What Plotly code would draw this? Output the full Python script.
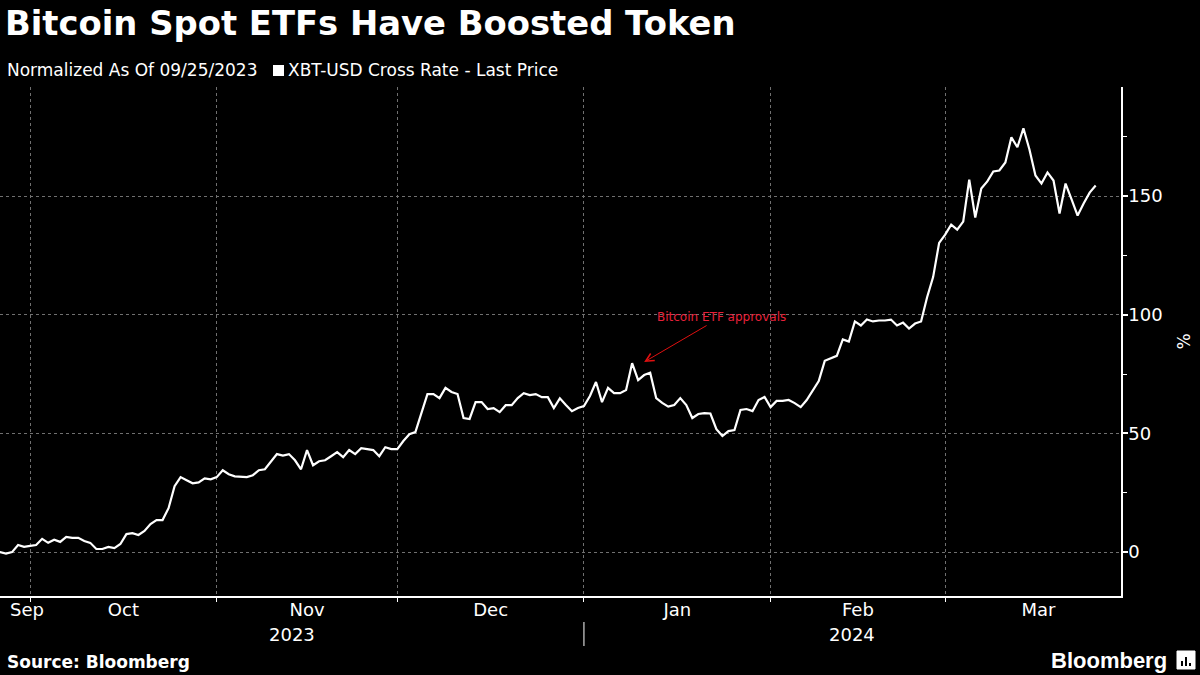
import plotly.graph_objects as go
import pandas as pd

# ---------------- data ----------------
start_date = "2023-09-25"   # normalization date (value 0), daily values follow
xbt_pct = [
    0.0,
    0.0, -0.6, 0.0, 3.0, 2.2, 2.6, 3.0, 5.6, 3.9, 5.2,
    4.3, 6.4, 6.0, 6.0, 4.7, 3.9, 1.3, 1.3, 2.2, 1.7,
    3.4, 7.6, 8.0, 7.2, 8.9, 11.8, 13.5, 13.5, 18.5, 27.8,
    31.6, 30.3, 29.0, 29.4, 31.1, 30.7, 31.6, 34.5, 32.8, 31.9,
    31.9, 31.6, 32.4, 34.5, 34.9, 37.9, 41.3, 40.7, 41.3, 38.7,
    34.9, 43.0, 36.6, 38.3, 38.7, 40.4, 42.1, 40.0, 43.0, 41.3,
    43.8, 43.4, 43.0, 40.4, 44.2, 43.4, 43.4, 46.8, 49.7, 50.6,
    59.0, 66.6, 66.6, 64.9, 69.2, 67.5, 66.6, 56.5, 56.1, 63.2,
    63.2, 60.3, 60.7, 59.0, 61.9, 61.9, 64.9, 67.0, 66.2, 66.6,
    65.3, 65.3, 60.7, 64.8, 62.0, 59.4, 60.7, 61.5, 65.8, 71.7,
    63.2, 69.2, 67.0, 67.0, 68.3, 79.6, 72.5, 74.6, 75.6, 64.9,
    62.9, 61.3, 62.0, 64.9, 62.0, 56.5, 58.2, 58.6, 58.4, 51.8,
    48.9, 51.0, 51.4, 59.9, 60.3, 59.4, 64.1, 65.4, 61.1, 63.7,
    63.7, 64.1, 62.8, 61.1, 64.1, 67.9, 72.1, 80.6, 81.8, 82.7,
    89.6, 88.7, 97.2, 95.5, 98.0, 97.2, 97.6, 97.6, 98.0, 95.5,
    96.7, 94.2, 96.3, 97.2, 107.4, 115.9, 130.3, 133.8, 138.0, 135.9,
    139.3, 157.0, 141.0, 153.2, 156.2, 160.4, 160.8, 164.2, 174.8, 170.6,
    178.6, 169.7, 158.7, 155.3, 160.0, 156.6, 142.7, 155.3, 148.6, 141.8,
    146.9, 151.5, 154.5,
]
month_labels = ["Sep", "Oct", "Nov", "Dec", "Jan", "Feb", "Mar"]
month_starts = ["2023-09-01", "2023-10-01", "2023-11-01", "2023-12-01",
                "2024-01-01", "2024-02-01", "2024-03-01"]
year_labels = ["2023", "2024"]
y_ticks = [0, 50, 100, 150]

title_text = "Bitcoin Spot ETFs Have Boosted Token"
subtitle_text = "Normalized As Of 09/25/2023"
series_name = "XBT-USD Cross Rate - Last Price"
event_text = "Bitcoin ETF approvals"
event_date = "2024-01-11"
event_value = 80.1
source_text = "Source: Bloomberg"

# ---------------- layout constants ----------------
W, H = 1200, 675
ML, MR, MT, MB = 0, 79, 87, 79
PW, PH = W - ML - MR, H - MT - MB
FONT = "DejaVu Sans"
GRID = "#707070"
x_range = [pd.Timestamp("2023-09-26"), pd.Timestamp("2024-03-30 05:00")]
y_range = [-18.5, 196]


def px(x):
    return (x - ML) / PW


def py(y):
    return (H - MB - y) / PH


dates = pd.date_range(start_date, periods=len(xbt_pct), freq="D")

# month label positions: centre of each month, kept inside the visible range
label_pos = []
for s in month_starts:
    s = pd.Timestamp(s)
    e = s + pd.offsets.MonthBegin(1)
    mid = s + (e - s) / 2
    if mid < x_range[0]:
        mid = x_range[0] + pd.Timedelta(days=4.5)
    label_pos.append(mid)

fig = go.Figure()
fig.add_trace(go.Scatter(
    x=dates, y=xbt_pct, mode="lines", name=series_name,
    line=dict(color="white", width=2.2), showlegend=False,
))

fig.update_layout(
    width=W, height=H,
    paper_bgcolor="black", plot_bgcolor="black",
    margin=dict(l=ML, r=MR, t=MT, b=MB),
    font=dict(family=FONT, color="white", size=17),
    hovermode=False,
)

fig.update_xaxes(
    range=x_range,
    tickvals=label_pos, ticktext=month_labels,
    ticks="", showgrid=False, zeroline=False,
    tickfont=dict(size=18, color="white", family=FONT),
    ticklabelstandoff=-3,
    showline=True, linecolor="white", linewidth=1.5,
    minor=dict(dtick="M1", tick0="2023-10-01", showgrid=True,
               gridcolor=GRID, griddash="dot", gridwidth=1,
               ticks="outside", ticklen=4, tickcolor="white", tickwidth=1),
)
fig.update_yaxes(
    range=y_range, side="right",
    tickvals=y_ticks, ticks="outside", ticklen=5, tickcolor="white", tickwidth=1.5,
    tickfont=dict(size=18, color="white", family=FONT),
    ticklabelstandoff=-3,
    showgrid=True, gridcolor=GRID, griddash="dot", gridwidth=1,
    zeroline=False, showline=True, linecolor="white", linewidth=1.5,
    minor=dict(dtick=25, ticks="outside", ticklen=4, tickcolor="white", tickwidth=1),
    title=dict(text="%", font=dict(size=17, color="white", family=FONT), standoff=16),
)

ann = []
ann.append(dict(text="<b>" + title_text + "</b>", xref="paper", yref="paper",
                x=px(3), y=py(24), xanchor="left", yanchor="middle", showarrow=False,
                font=dict(size=33.8, color="white", family=FONT)))
ann.append(dict(text=subtitle_text, xref="paper", yref="paper",
                x=px(5), y=py(70), xanchor="left", yanchor="middle", showarrow=False,
                font=dict(size=17, color="white", family=FONT)))
ann.append(dict(text=series_name, xref="paper", yref="paper",
                x=px(286), y=py(70), xanchor="left", yanchor="middle", showarrow=False,
                font=dict(size=17, color="white", family=FONT)))
ann.append(dict(text="<b>" + source_text + "</b>", xref="paper", yref="paper",
                x=px(5), y=py(662), xanchor="left", yanchor="middle", showarrow=False,
                font=dict(size=17, color="white", family=FONT)))
ann.append(dict(text="<b>Bloomberg</b>", xref="paper", yref="paper",
                x=px(1169), y=py(660), xanchor="right", yanchor="middle", showarrow=False,
                font=dict(size=22, color="white", family="Liberation Sans")))
# event annotation
ann.append(dict(text=event_text, x=event_date, y=event_value, xref="x", yref="y",
                ax=77, ay=-45, showarrow=True, arrowhead=5, arrowsize=1.6,
                arrowwidth=1, arrowcolor="#e01010",
                font=dict(size=12, color="#e8203a", family=FONT)))
# year labels
year_bounds = [(x_range[0], pd.Timestamp("2024-01-01")),
               (pd.Timestamp("2024-01-01"), x_range[1])]
for lab, (a, b) in zip(year_labels, year_bounds):
    ann.append(dict(text=lab, x=a + (b - a) / 2, xref="x", yref="paper", y=py(634),
                    xanchor="center", yanchor="middle", showarrow=False,
                    font=dict(size=18, color="white", family=FONT)))
fig.update_layout(annotations=ann)

shapes = []
# legend swatch
shapes.append(dict(type="rect", xref="paper", yref="paper",
                   x0=px(273), x1=px(284), y0=py(76), y1=py(65),
                   fillcolor="white", line=dict(width=0)))
# year separator
shapes.append(dict(type="line", xref="x", yref="paper",
                   x0="2024-01-01", x1="2024-01-01", y0=py(622), y1=py(646),
                   line=dict(color="white", width=1)))
# Bloomberg icon
shapes.append(dict(type="rect", xref="paper", yref="paper",
                   x0=px(1177), x1=px(1195), y0=py(669), y1=py(651),
                   fillcolor="white", line=dict(color="white", width=1)))
for bx, top in [(1181, 661), (1185, 657), (1189, 663)]:
    shapes.append(dict(type="rect", xref="paper", yref="paper",
                       x0=px(bx), x1=px(bx + 2), y0=py(666), y1=py(top),
                       fillcolor="black", line=dict(width=0)))
fig.update_layout(shapes=shapes)

fig.write_html(
    "out.html",
    config={"displayModeBar": False},
    post_script="document.body.style.margin='0';document.body.style.overflow='hidden';",
)
